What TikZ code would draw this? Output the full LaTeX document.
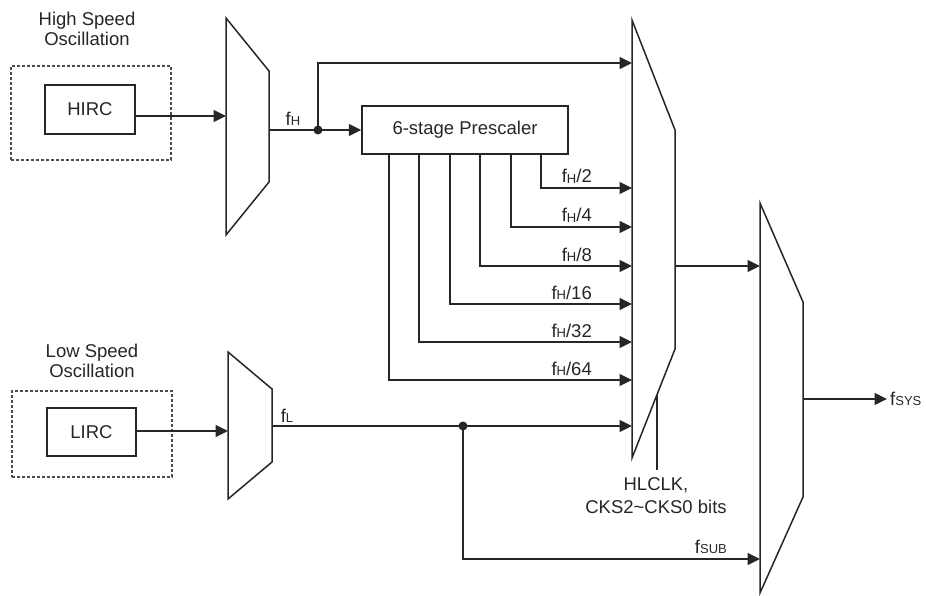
\documentclass[tikz,border=0pt]{standalone}
\usepackage{fontspec}
\setmainfont{Liberation Sans}
\usetikzlibrary{arrows.meta}
\newcommand{\sigsub}[1]{\raisebox{-0.4pt}{\fontsize{13}{13}\selectfont #1}}
\begin{document}
\begin{tikzpicture}[x=1pt,y=-1pt,
  every node/.style={font=\fontsize{18.5}{20}\selectfont, text=black!85},
  ln/.style={line width=1.5pt, draw=black!85},
  arr/.style={ln, -{Triangle[length=12.5pt,width=12pt]}},
  box/.style={ln, rectangle, inner sep=0pt},
  dbox/.style={rectangle, draw=black!70, line width=1.1pt, dash pattern=on 3pt off 2pt, inner sep=0pt},
  dot/.style={circle, fill=black!85, inner sep=0pt, minimum size=9pt},
  lab/.style={inner sep=0pt, anchor=base east}]
\useasboundingbox (0,0) rectangle (926,596);

% oscillator groups
\node[dbox, minimum width=160pt, minimum height=94pt] (hs) at (91,113) {};
\node[box, minimum width=90pt, minimum height=49pt] (hirc) at (90,109.5) {HIRC};
\node[align=center, font=\fontsize{18.5}{19.5}\selectfont] (hstxt) at (87,29) {High Speed\\Oscillation};

\node[dbox, minimum width=160pt, minimum height=86pt] (ls) at (92,434) {};
\node[box, minimum width=89pt, minimum height=48pt] (lirc) at (91.5,432) {LIRC};
\node[align=center, font=\fontsize{18.5}{19.5}\selectfont] (lstxt) at (92,361) {Low Speed\\Oscillation};

% mux 1 (high speed)
\draw[ln] (226,18) -- (269,71) -- (269,182) -- (226,235) -- cycle;
\coordinate (m1in) at (226,116);
\coordinate (m1out) at (269,130);
% mux 4 (low speed)
\draw[ln] (228,352) -- (272,389) -- (272,462) -- (228,499) -- cycle;
\coordinate (m4in) at (228,431);
\coordinate (m4out) at (272,426);
% mux 2
\draw[ln] (632,20) -- (675,130) -- (675,349) -- (632,458) -- cycle;
\coordinate (m2out) at (675,266);
\coordinate (sel) at (657,394.6);
\coordinate (selend) at (657,470);
% mux 3
\draw[ln] (760,203) -- (803,302) -- (803,497) -- (760,593) -- cycle;
\coordinate (m3in) at (760,266);
\coordinate (m3sub) at (760,559);
\coordinate (m3out) at (803,399);

% prescaler
\node[box, minimum width=206pt, minimum height=48pt] (pre) at (465,130) {6-stage Prescaler};

% mux 2 inputs
\coordinate (i0) at (632,63);
\coordinate (i1) at (632,188);
\coordinate (i2) at (632,227);
\coordinate (i3) at (632,266);
\coordinate (i4) at (632,304);
\coordinate (i5) at (632,342);
\coordinate (i6) at (632,380);
\coordinate (i7) at (632,426);

% connections
\draw[arr] (hirc.east |- m1in) -- (m1in);
\draw[arr] (lirc.east |- m4in) -- (m4in);
\node[dot] (fh) at (318,130) {};
\draw[ln] (m1out) -- (fh.center);
\draw[arr] (fh.center) -- (pre.west);
\draw[arr] (fh.center) |- (i0);
\node[inner sep=0pt] (fhl) at (293,119) {f\sigsub{H}};

\draw[arr] (pre.south -| 541,0) |- (i1);
\draw[arr] (pre.south -| 511,0) |- (i2);
\draw[arr] (pre.south -| 480,0) |- (i3);
\draw[arr] (pre.south -| 450,0) |- (i4);
\draw[arr] (pre.south -| 419,0) |- (i5);
\draw[arr] (pre.south -| 389,0) |- (i6);
\node[lab] (l1) at (592,183) {f\sigsub{H}/2};
\node[lab] (l2) at (592,222) {f\sigsub{H}/4};
\node[lab] (l3) at (592,261) {f\sigsub{H}/8};
\node[lab] (l4) at (592,299) {f\sigsub{H}/16};
\node[lab] (l5) at (592,337) {f\sigsub{H}/32};
\node[lab] (l6) at (592,375) {f\sigsub{H}/64};

\node[dot] (fl) at (463,426) {};
\draw[arr] (m4out) -- (i7);
\node[inner sep=0pt] (fll) at (287,416) {f\sigsub{L}};
\draw[arr] (fl.center) |- (m3sub);
\node[lab] (lsub) at (727,553) {f\sigsub{SUB}};

\draw[arr] (m2out) -- (m3in);
\draw[arr] (m3out) -- (887,399) coordinate (fsys);
\node[anchor=west, inner sep=0pt] (lsys) at ([xshift=3pt]fsys) {f\sigsub{SYS}};

\draw[ln] (sel) -- (selend);
\node[align=center, font=\fontsize{18.5}{23}\selectfont] (seltxt) at (656,496) {HLCLK,\\CKS2\textasciitilde CKS0 bits};
\end{tikzpicture}
\end{document}
